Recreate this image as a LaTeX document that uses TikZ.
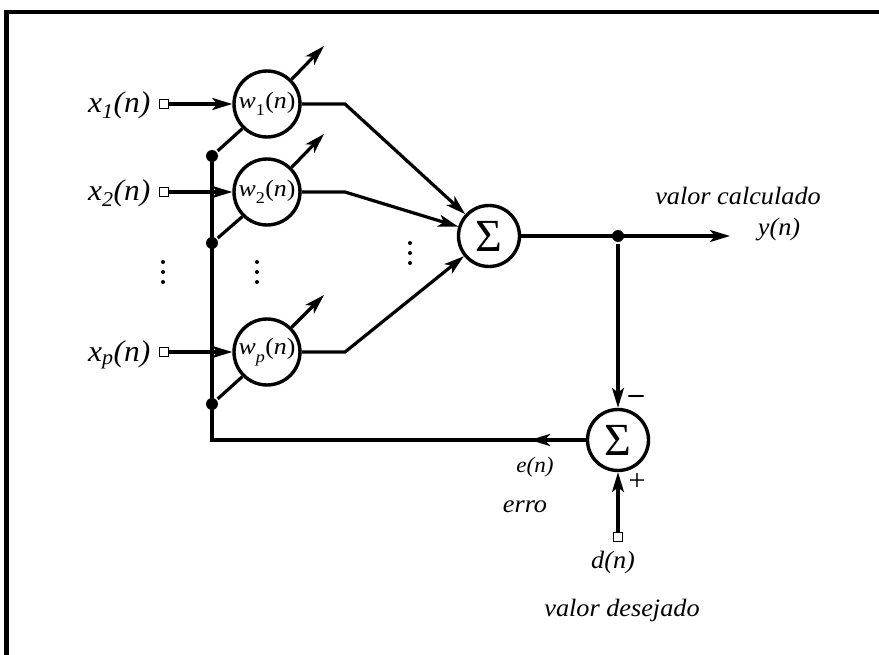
\documentclass[tikz,border=0pt]{standalone}
\usepackage{fontspec}
\setmainfont{Liberation Serif}
\usepackage{graphicx}
\usetikzlibrary{arrows.meta}
\newcommand\hs[1]{\scalebox{1.05}[1]{#1}}
\newcommand\hx[1]{\scalebox{1.1}[1]{#1}}
\begin{document}
\begin{tikzpicture}[x=1pt,y=-1pt,
  line width=3.2pt,
  arr/.style={-{Stealth[length=20pt,width=12pt,inset=5pt]}},
  wnode/.style={circle, draw, minimum size=66pt, inner sep=0pt, line width=3.4pt,
    font=\fontsize{23.5}{25}\selectfont},
  snode/.style={circle, draw, minimum size=61pt, inner sep=0pt, line width=3.4pt,
    font=\fontsize{46}{48}\selectfont},
  sq/.style={rectangle, draw, minimum size=9pt, inner sep=0pt, line width=1.8pt, fill=white},
  jdot/.style={circle, fill, minimum size=12pt, inner sep=0pt},
  lbl/.style={font=\fontsize{25}{28}\selectfont\itshape, inner sep=0pt, anchor=base},
  xl/.style={font=\fontsize{30}{33}\selectfont\itshape, inner sep=0pt, anchor=base east},
  vd/.style={circle, fill, minimum size=4pt, inner sep=0pt},
  sgn/.style={font=\fontsize{30}{32}\selectfont, inner sep=0pt}]
\useasboundingbox (0,0) rectangle (879,655);
% frame
\draw[line width=4.5pt] (6.5,655) -- (6.5,12) -- (879,12);

% weight nodes
\node[wnode] (w1) at (267,104) {\hx{\textit{w}\raisebox{-0.35ex}{\textsubscript{1}}(\textit{n})}};
\node[wnode] (w2) at (267,192) {\hx{\textit{w}\raisebox{-0.35ex}{\textsubscript{2}}(\textit{n})}};
\node[wnode] (wp) at (267,352) {\hx{\textit{w}\raisebox{-0.35ex}{\textsubscript{\textit{p}}}(\textit{n})}};

% summation nodes
\node[snode] (s1) at (489,236) {Σ};
\node[snode] (s2) at (618,440) {Σ};

% input squares
\node[sq] (i1) at (164,104) {};
\node[sq] (i2) at (164,192) {};
\node[sq] (ip) at (164,352) {};
\node[sq] (id) at (618,537) {};

% input labels
\node[xl] (lx1) at (152,113) {\hs{x\textsubscript{1}(n)}};
\node[xl] (lx2) at (152,201) {\hs{x\textsubscript{2}(n)}};
\node[xl] (lxp) at (152,361) {\hs{x\textsubscript{p}(n)}};

% junction dots
\node[jdot] (d1) at (212,156) {};
\node[jdot] (d2) at (212,243) {};
\node[jdot] (dp) at (212,404) {};
\node[jdot] (dy) at (618,236) {};

% coordinates
\coordinate (t1) at (324,46);
\coordinate (t2) at (324,134);
\coordinate (tp) at (324,295);
\coordinate (b1) at (345,104);
\coordinate (b2) at (345,192);
\coordinate (bp) at (345,352);
\coordinate (yout) at (730,236);
\coordinate (ea) at (530,440);
\coordinate (fb) at (212,440);

% inputs to weights
\draw[arr] (i1) -- (w1);
\draw[arr] (i2) -- (w2);
\draw[arr] (ip) -- (wp);

% adaptation lines
\draw (d1) -- (w1.225);
\draw[arr] (w1.45) -- (t1);
\draw (d2) -- (w2.225);
\draw[arr] (w2.45) -- (t2);
\draw (dp) -- (wp.225);
\draw[arr] (wp.45) -- (tp);

% weights to sum
\draw[arr] (w1) -- (b1) -- (s1);
\draw[arr] (w2) -- (b2) -- (s1);
\draw[arr] (wp) -- (bp) -- (s1);

% output
\draw[arr] (s1) -- (dy.center) -- (yout);
\draw[arr] (dy) -- (s2);
\draw[arr] (id) -- (s2);

% error feedback
\draw (s2) -- (fb) -- (d1.center);
\draw[arr] (s2) -- (ea);

% signs
\node[font=\fontsize{30}{32}\selectfont\bfseries, inner sep=0pt] (minus) at (636,399) {–};
\node[sgn] (plus) at (637,482) {+};

% vertical dots
\foreach \yy in {262,272,282} {
  \node[vd] at (163,\yy) {};
  \node[vd] at (257,\yy) {};
}
\foreach \yy in {243,253,263} {
  \node[vd] at (410,\yy) {};
}

% labels
\node[lbl] (vc) at (738,205) {\hs{valor calculado}};
\node[lbl] (yn) at (779,236) {\hs{y(n)}};
\node[lbl, font=\fontsize{22}{24}\selectfont\itshape] (en) at (535,472) {\hs{e(n)}};
\node[lbl] (erro) at (525,512) {\hs{erro}};
\node[lbl] (dn) at (613,568) {\hs{d(n)}};
\node[lbl] (vd) at (622,616) {\hs{valor desejado}};
\end{tikzpicture}
\end{document}
